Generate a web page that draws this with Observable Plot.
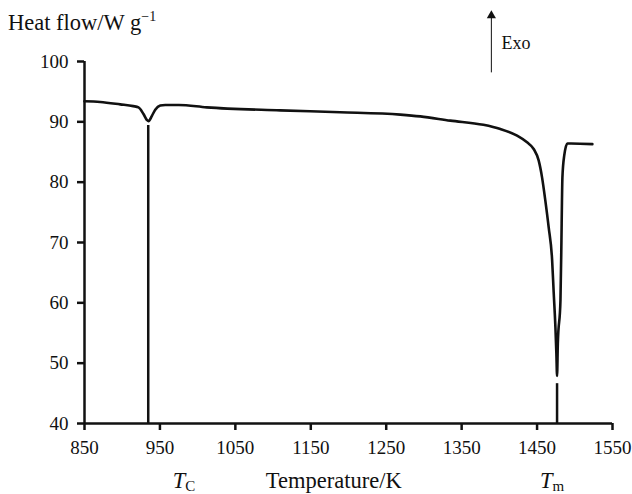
<!DOCTYPE html>
<html><head><meta charset="utf-8">
<script src="https://cdn.jsdelivr.net/npm/d3@7"></script>
<script src="https://cdn.jsdelivr.net/npm/@observablehq/plot@0.6"></script>
<style>
body{margin:0;background:#fff}
#chart svg{display:block}
#chart svg text{font-family:"Liberation Serif","Times New Roman","DejaVu Serif",serif !important}
</style>
</head><body><div id="chart"></div>
<script>
// DSC trace: temperature (K) and heat flow (W g^-1)
const temperature = [850, 870.8, 897.3, 914.6, 921.6, 928.2, 932.8, 934.9, 939.4, 943.8, 950.4, 957, 975, 1012, 1109.5, 1189, 1268.7, 1295.2, 1335, 1378.8, 1401.3, 1423.5, 1436.7, 1445.5, 1452.1, 1456.6, 1461, 1465.4, 1469.9, 1472, 1474.3, 1475.6, 1476.5, 1477.5, 1481, 1482.3, 1483, 1483.6, 1486, 1490.2, 1495, 1523.3];
const heatFlow    = [93.4, 93.3, 92.9, 92.6, 92.4, 91.3, 90.3, 90.1, 91.0, 92.0, 92.7, 92.8, 92.8, 92.4, 91.9, 91.6, 91.2, 90.9, 90.2, 89.5, 88.8, 87.7, 86.6, 85.5, 83.6, 80.8, 76.9, 72.5, 67.2, 61.8, 56.0, 51.6, 47.9, 53.2, 60.4, 70.3, 76.9, 80.8, 84.4, 86.4, 86.4, 86.3];

const xTicks = [850, 950, 1050, 1150, 1250, 1350, 1450, 1550];
const yTicks = [40, 50, 60, 70, 80, 90, 100];

// transition markers (Curie point and melting point)
const transitionT   = [934.5, 1476.5];
const transitionTop = [89.4, 46.6];
const transitionSym = ["T", "T"];
const transitionSub = ["C", "m"];
const transitionLabelT = [967.6, 1454.4];

// labels
const yLabel = "Heat flow/W g";
const yLabelSup = "\u22121";
const xLabel = "Temperature/K";
const xLabelT = 1091;
const exoText = "Exo";
const exoT = [1389.4];
const exoFrom = [98.2];
const exoTo = [107.4];
const exoTextT = [1403];
const exoTextY = [103.1];

const table = temperature.map((t, i) => ({t, q: heatFlow[i]}));

const ink = "#111";
const serif = "'Liberation Serif', 'Times New Roman', 'DejaVu Serif', serif";
const plot = Plot.plot({
  width: 632,
  height: 494,
  marginLeft: 84,
  marginRight: 20,
  marginTop: 61,
  marginBottom: 71,
  style: {fontFamily: serif, fontSize: "19px", color: ink, background: "#fff", overflow: "visible"},
  x: {domain: [850, 1550]},
  y: {domain: [40, 100]},
  marks: [
    Plot.axisX(xTicks, {tickSize: 7, tickPadding: 10, strokeWidth: 2.5, label: null, tickFormat: d => String(d)}),
    Plot.axisY(yTicks, {tickSize: 7, tickPadding: 9, strokeWidth: 2.5, label: null, tickFormat: d => String(d)}),
    Plot.ruleX([850], {stroke: ink, strokeWidth: 2.5}),
    Plot.ruleY([40], {stroke: ink, strokeWidth: 2.5}),
    Plot.ruleX(transitionT, {x: d => d, y1: 40, y2: (d, i) => transitionTop[i], stroke: ink, strokeWidth: 2.5}),
    Plot.line(table, {x: "t", y: "q", stroke: ink, strokeWidth: 2.6, curve: "monotone-x"}),
    Plot.link(exoT, {x1: d => d, x2: d => d, y1: (d, i) => exoFrom[i], y2: (d, i) => exoTo[i], stroke: ink, strokeWidth: 1}),
    Plot.dot(exoT, {x: d => d, y: (d, i) => exoTo[i] + 0.2, symbol: "triangle", r: 3.4, fill: ink, stroke: null}),
    Plot.text(exoT, {x: (d, i) => exoTextT[i], y: (d, i) => exoTextY[i], text: () => exoText, textAnchor: "start", fill: ink})
  ]
});

const svg = d3.select(plot);
const xs = plot.scale("x");
svg.selectAll('g[aria-label$="tick label"]').attr("font-size", 19).style("font-size", "19px");
svg.selectAll('g[aria-label="text"]').attr("font-size", 18).style("font-size", "18px");

// y-axis title with superscript
const yt = svg.append("text").attr("x", 8).attr("y", 30)
  .style("font-size", "22.5px").attr("fill", ink).attr("text-anchor", "start");
yt.append("tspan").text(yLabel);
yt.append("tspan").style("font-size", "14px").attr("dy", -9).text(yLabelSup);

// x-axis title
svg.append("text").attr("x", xs.apply(xLabelT)).attr("y", 488)
  .style("font-size", "22.5px").attr("fill", ink).attr("text-anchor", "start").text(xLabel);

// transition labels
transitionT.forEach((t, i) => {
  const tx = svg.append("text").attr("x", xs.apply(transitionLabelT[i])).attr("y", 488)
    .style("font-size", "22.5px").attr("fill", ink).attr("text-anchor", "start");
  tx.append("tspan").attr("font-style", "italic").text(transitionSym[i]);
  tx.append("tspan").style("font-size", "15px").attr("dy", 3).text(transitionSub[i]);
});

document.getElementById("chart").appendChild(plot);
</script>
</body></html>
